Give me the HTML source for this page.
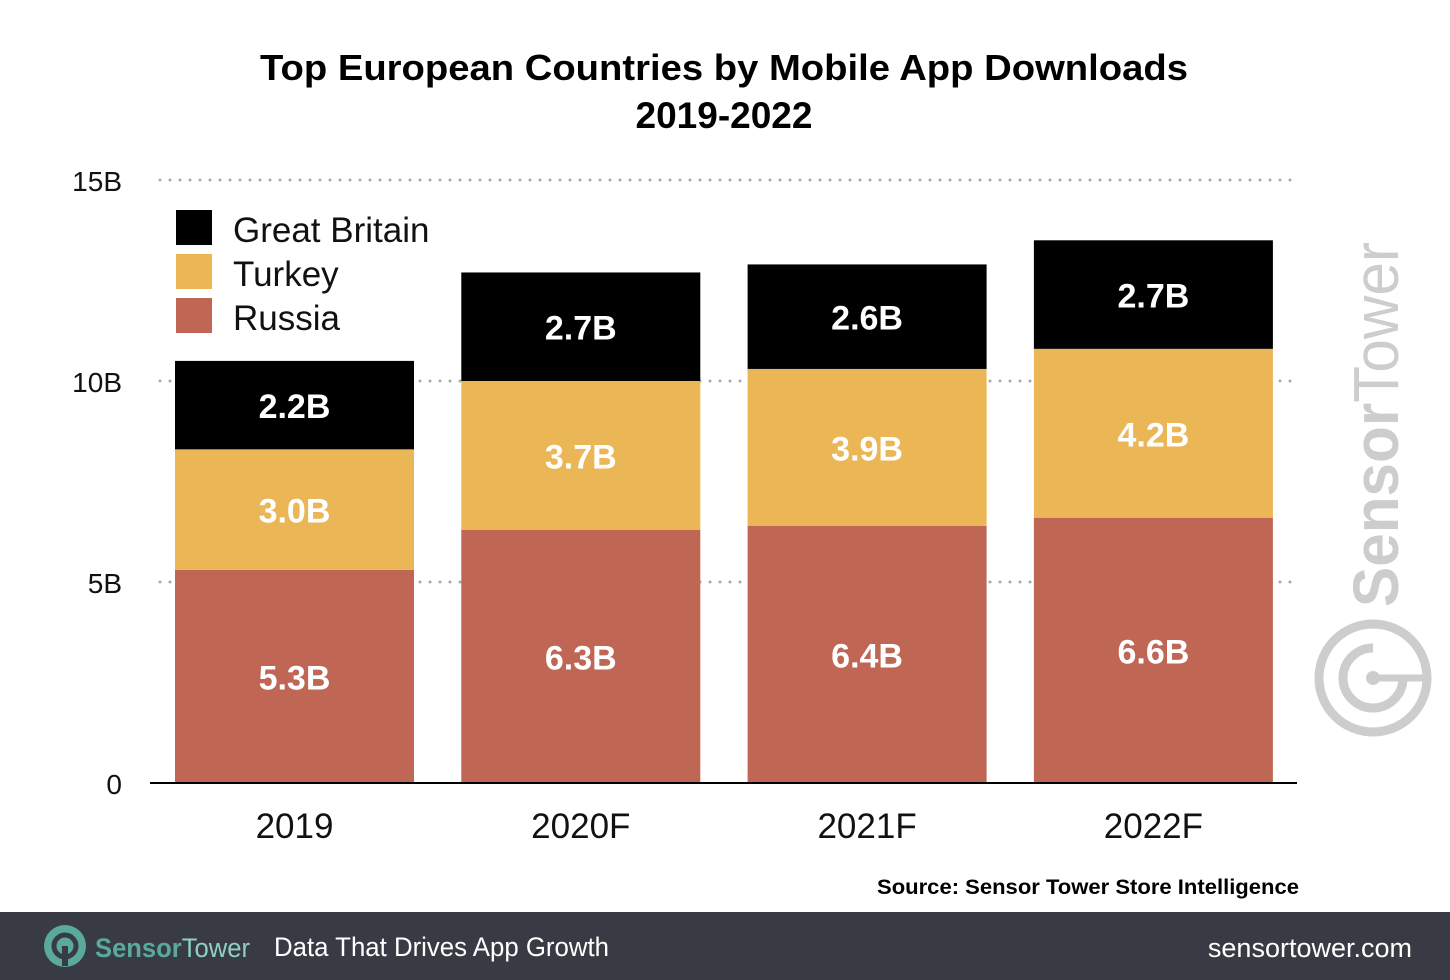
<!DOCTYPE html>
<html><head><meta charset="utf-8"><style>
html,body{margin:0;padding:0;background:#fff;}
svg{display:block;font-family:"Liberation Sans",Arial,sans-serif;}
</style></head><body>
<svg id="chart" width="1450" height="980" viewBox="0 0 1450 980">
<text x="724" y="80" text-anchor="middle" font-size="36" font-weight="bold" fill="#000" textLength="928" lengthAdjust="spacingAndGlyphs">Top European Countries by Mobile App Downloads</text>
<text x="724" y="128" text-anchor="middle" font-size="37" font-weight="bold" fill="#000">2019-2022</text>
<g id="grid"></g>
<g id="bars"></g>
<line x1="150" y1="783" x2="1297" y2="783" stroke="#000" stroke-width="2"/>
<g id="xlabels"></g>
<g>
<g><rect x="176" y="210" width="36" height="35" fill="#000"/><text x="233" y="242" font-size="35" fill="#111">Great Britain</text></g>
<g><rect x="176" y="254" width="36" height="35" fill="#ebb655"/><text x="233" y="286" font-size="35" fill="#111">Turkey</text></g>
<g><rect x="176" y="298" width="36" height="35" fill="#bf6654"/><text x="233" y="330" font-size="35" fill="#111">Russia</text></g>
</g>
<g>
<text transform="translate(1398,607) rotate(-90)" font-size="64" fill="#cdcdcd" textLength="365" lengthAdjust="spacingAndGlyphs"><tspan font-weight="bold">Sensor</tspan>Tower</text>
<circle cx="1373" cy="678" r="54" fill="none" stroke="#cdcdcd" stroke-width="9"/>
<path d="M1373 648 A30 30 0 1 0 1403 678" fill="none" stroke="#cdcdcd" stroke-width="9"/>
<line x1="1373" y1="678" x2="1428" y2="678" stroke="#cdcdcd" stroke-width="7"/>
<circle cx="1373" cy="678" r="7" fill="#cdcdcd"/>
</g>
<text x="1299" y="894" text-anchor="end" font-size="21" font-weight="bold" fill="#000" textLength="422" lengthAdjust="spacingAndGlyphs">Source: Sensor Tower Store Intelligence</text>
<g>
<rect x="0" y="912" width="1450" height="68" fill="#383b44"/>
<circle cx="65" cy="946" r="21" fill="#5aa99a"/>
<circle cx="65" cy="946" r="11" fill="none" stroke="#383b44" stroke-width="5"/>
<rect x="62" y="946" width="6" height="20" fill="#383b44"/>
<text x="95" y="957" font-size="27" fill="#5aa99a" textLength="155" lengthAdjust="spacingAndGlyphs"><tspan font-weight="bold">Sensor</tspan><tspan fill="#8fd0c4">Tower</tspan></text>
<text x="274" y="956" font-size="27" fill="#fff" textLength="335" lengthAdjust="spacingAndGlyphs">Data That Drives App Growth</text>
<text x="1412" y="957" text-anchor="end" font-size="27" fill="#fff">sensortower.com</text>
</g>
</svg>
<script>
const categories = ["2019","2020F","2021F","2022F"];
const russia = [5.3,6.3,6.4,6.6];
const turkey = [3.0,3.7,3.9,4.2];
const britain = [2.2,2.7,2.6,2.7];
const yTicks = [0,5,10,15];
const yTickLabels = ["0","5B","10B","15B"];
const NS="http://www.w3.org/2000/svg";
const y0=783, pxPerB=40.2;
function yScale(v){return y0 - v*pxPerB;}
function xBand(i){return 175 + i*286.3;}
const bw=239;
function mk(tag,attrs,parent){const e=document.createElementNS(NS,tag);for(const k in attrs)e.setAttribute(k,attrs[k]);parent.appendChild(e);return e;}
const grid=document.getElementById('grid');
yTicks.forEach((t,i)=>{
  if(t>0){
    const l=mk('line',{x1:160,x2:1295,y1:yScale(t),y2:yScale(t),stroke:'#aaa','stroke-width':3,'stroke-dasharray':'0 10','stroke-linecap':'round'},grid);
    
    
  }
  const tx=mk('text',{x:122,y:yScale(t)+11,'text-anchor':'end','font-size':28,fill:'#111'},grid);
  tx.textContent=yTickLabels[i];
  
  
});
const bars=document.getElementById('bars');
const series=[[russia,'#bf6654','russia'],[turkey,'#ebb655','turkey'],[britain,'#000','great-britain']];
categories.forEach((c,i)=>{
  let base=0;
  series.forEach(([arr,col,name])=>{
    const v=arr[i];
    const top=yScale(base+v), bot=yScale(base);
    const r=mk('rect',{x:xBand(i),y:top,width:bw,height:bot-top,fill:col},bars);
    
    
    const t=mk('text',{x:xBand(i)+bw/2,y:(top+bot)/2+13,'text-anchor':'middle','font-size':34,'font-weight':'bold',fill:'#fff'},bars);
    t.textContent=v.toFixed(1)+'B';
    
    
    base+=v;
  });
  const xl=mk('text',{x:xBand(i)+bw/2,y:838,'text-anchor':'middle','font-size':35,fill:'#111'},document.getElementById('xlabels'));
  xl.textContent=c;
  
  
});
</script>
</body></html>
